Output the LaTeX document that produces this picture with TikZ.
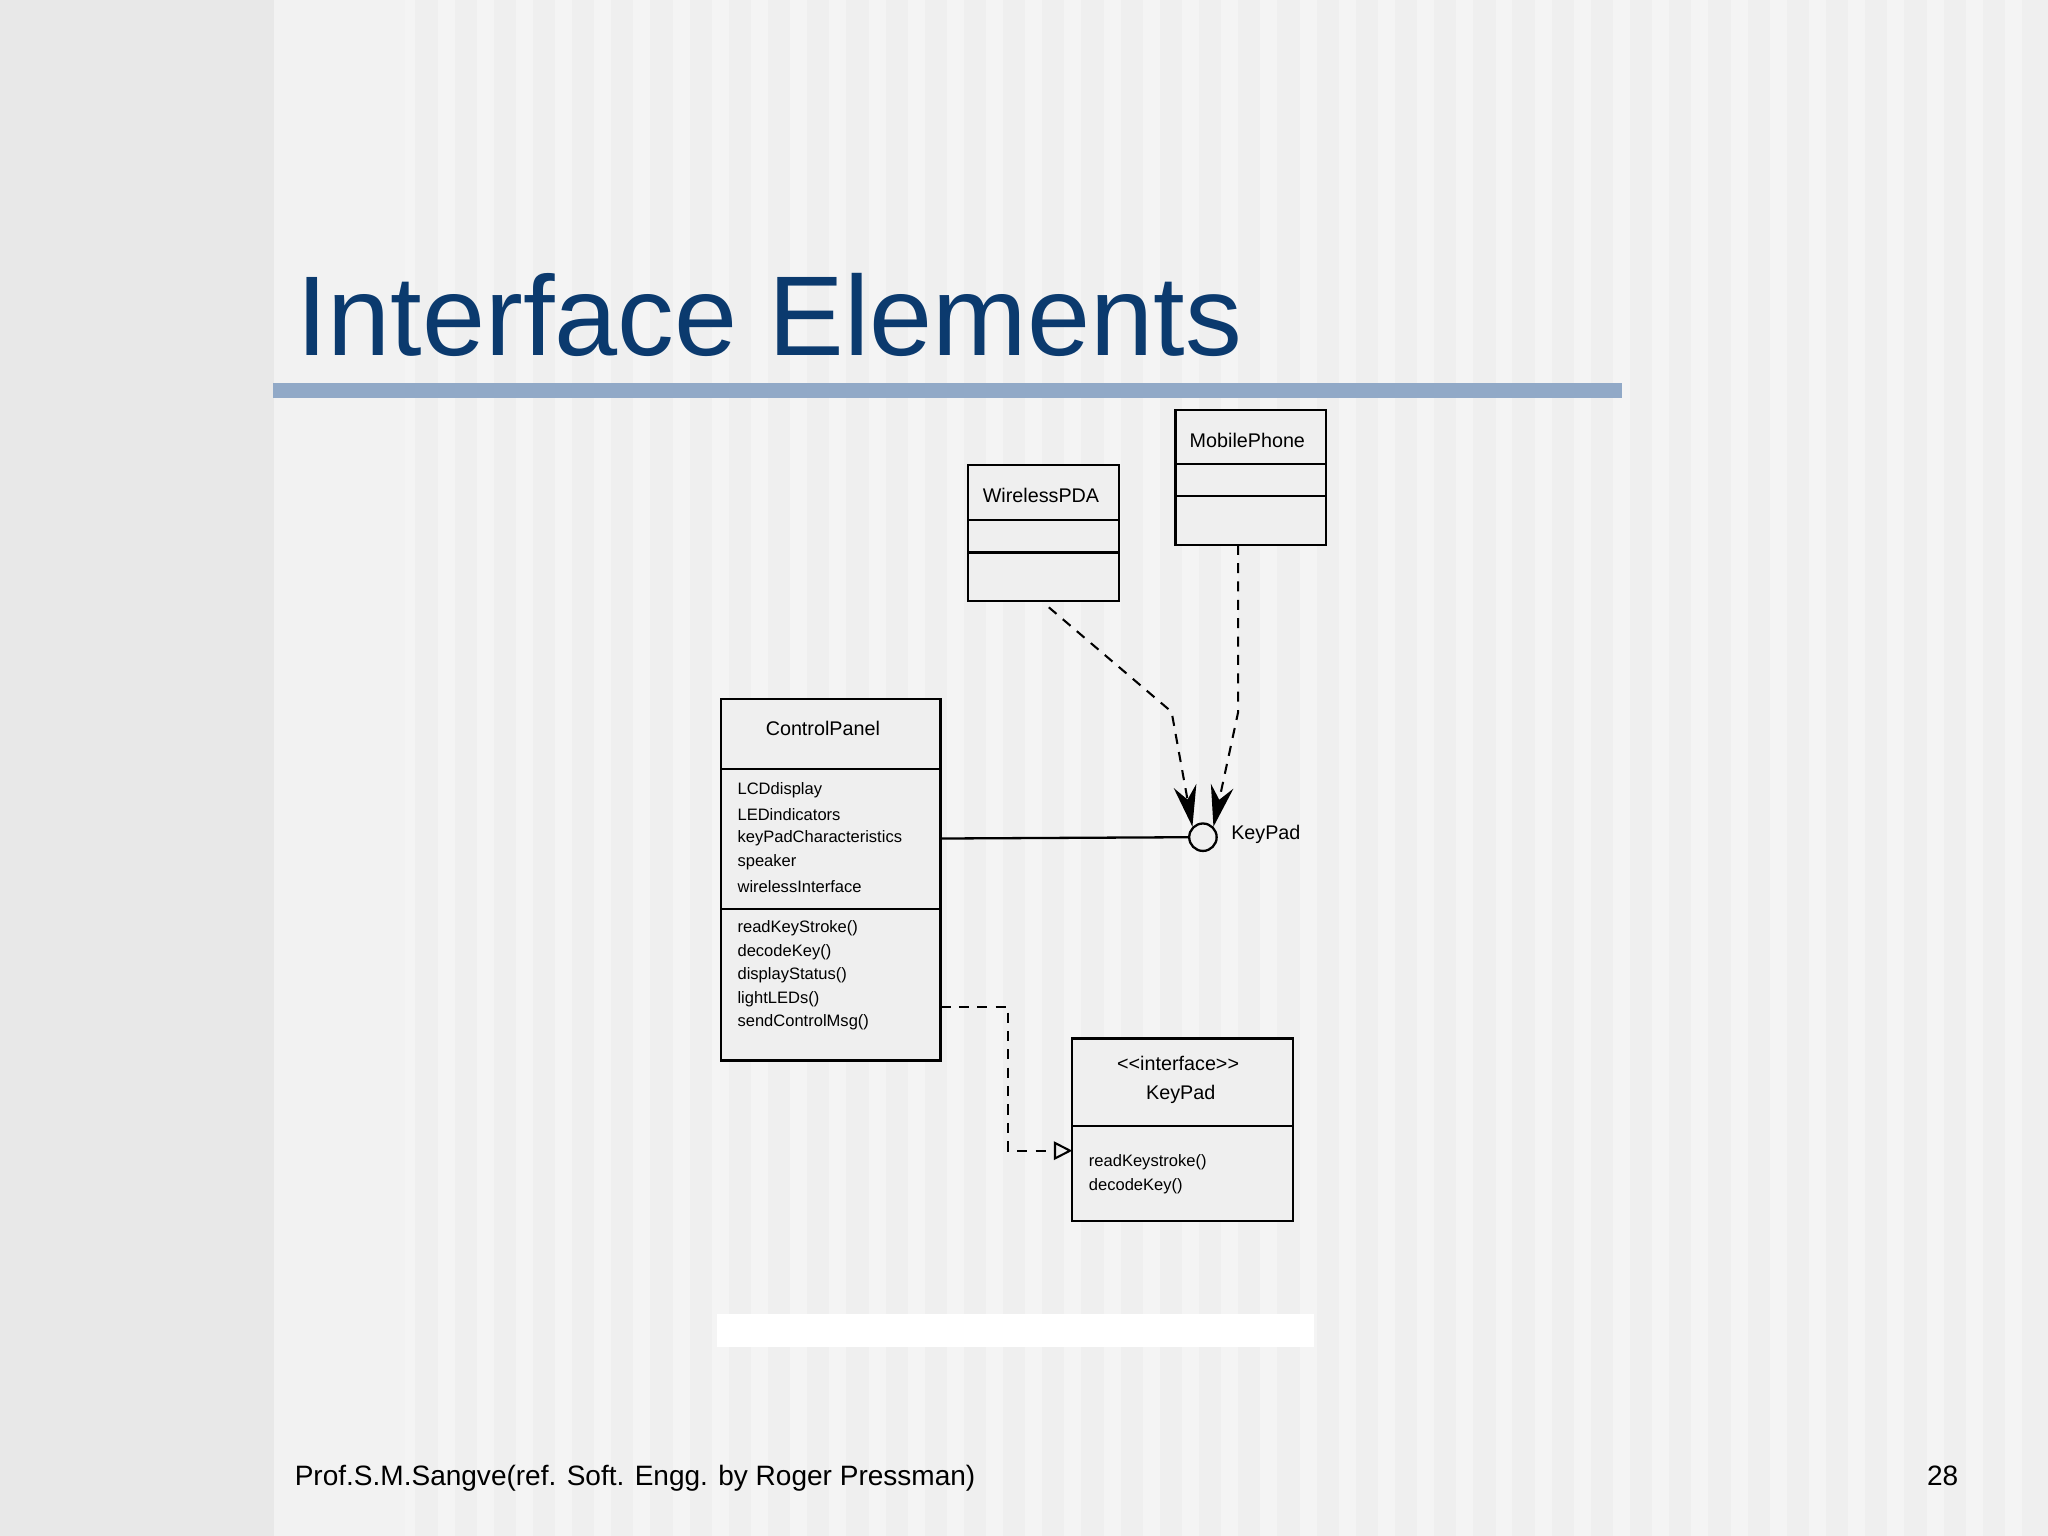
\documentclass[tikz,border=0pt]{standalone}
\usepackage{fontspec}
\setmainfont{Liberation Sans}
\usetikzlibrary{arrows.meta}
\definecolor{bg}{HTML}{EFEFEF}
\definecolor{titleblue}{HTML}{0B3A6E}
\definecolor{barblue}{HTML}{91A9C7}
\tikzset{
  cls/.style={draw=black,line width=0.5pt},
  dep/.style={draw=black,dashed,dash pattern=on 2.2pt off 1.8pt,line width=0.45pt},
  ctext/.style={font=\fontsize{4.3pt}{5pt}\selectfont,inner sep=0pt},
  stext/.style={font=\fontsize{3.6pt}{5pt}\selectfont,inner sep=0pt,anchor=west},
}
\begin{document}
\begin{tikzpicture}[x=0.01cm,y=-0.01cm]
\useasboundingbox (0,0) rectangle (1568,1176);
\fill[bg] (0,0) rectangle (1568,1176);
\fill[black!9] (0,0) rectangle (210,1176);
\foreach \i in {0,...,44}{\fill[white,opacity=0.35] (215+\i*30,0) rectangle (228+\i*30,1176);}
\fill[black!5] (210,0) rectangle (310,1176);
% title
\node[anchor=base west,inner sep=0pt,text=titleblue,font=\fontsize{24.7pt}{30pt}\selectfont] (title) at (226,272) {Interface Elements};
\fill[barblue] (209,293) rectangle (1242,305);
% MobilePhone
\draw[cls,fill=bg] (900,314) rectangle (1015,417);
\draw[cls] (900,355) -- (1015,355) (900,380) -- (1015,380);
\node[ctext] (mp) at (955,337) {MobilePhone};
% WirelessPDA
\draw[cls,fill=bg] (741,356) rectangle (857,460);
\draw[cls] (741,398) -- (857,398) (741,423) -- (857,423);
\node[ctext] (pda) at (797,379) {WirelessPDA};
% ControlPanel
\draw[cls,fill=bg] (552,535) rectangle (720,812);
\draw[cls] (552,589) -- (720,589) (552,696) -- (720,696);
\node[ctext] (cp) at (630,558) {ControlPanel};
\foreach \t [count=\k] in {LCDdisplay,LEDindicators,keyPadCharacteristics,speaker,wirelessInterface}
  \node[stext] at (564,587+\k*18.3) {\t};
\foreach \t [count=\k] in {readKeyStroke(),decodeKey(),displayStatus(),lightLEDs(),sendControlMsg()}
  \node[stext] at (564,693+\k*18) {\t};
% interface box
\draw[cls,fill=bg] (821,795) rectangle (990,935);
\draw[cls] (821,862) -- (990,862);
\node[ctext] (st) at (902,814) {{<}{<}interface{>}{>}};
\node[ctext] (kp) at (904,838) {KeyPad};
\node[stext] at (833,890) {readKeystroke()};
\node[stext] at (833,908) {decodeKey()};
% lollipop
\node[draw=black,circle,minimum size=21pt*0.2845,inner sep=0pt,line width=0.5pt,fill=bg] (lol) at (921,641) {};
\node[ctext,anchor=west] (kpl) at (942,639) {KeyPad};
\draw[cls] (720,642) -- (lol.west);
\coordinate (a1) at (803,465);
\coordinate (a2) at (897,545);
\coordinate (b1) at (948,417);
\coordinate (b2) at (948,545);
\draw[dep,-{Stealth[length=9pt,width=5pt,inset=3pt]}] (a1) -- (a2) -- (lol.north west);
\draw[dep,-{Stealth[length=9pt,width=5pt,inset=3pt]}] (b1) -- (b2) -- (lol.north east);
% realization
\coordinate (c1) at (720,771);
\coordinate (c2) at (772,771);
\coordinate (c3) at (772,881);
\draw[dep,-{Triangle[open,length=4pt,width=4pt]}] (c1) -- (c2) -- (c3) -- (821,881);
% white strip
\fill[white] (549,1006) rectangle (1006,1031);
% footer
\node[anchor=base west,inner sep=0pt,font=\fontsize{6.1pt}{7pt}\selectfont] (foot) at (225,1137) {Prof.S.M.Sangve(ref. Soft. Engg. by Roger Pressman)};
\node[anchor=base east,inner sep=0pt,font=\fontsize{6.1pt}{7pt}\selectfont] (pg) at (1500,1137) {28};
\end{tikzpicture}
\end{document}
